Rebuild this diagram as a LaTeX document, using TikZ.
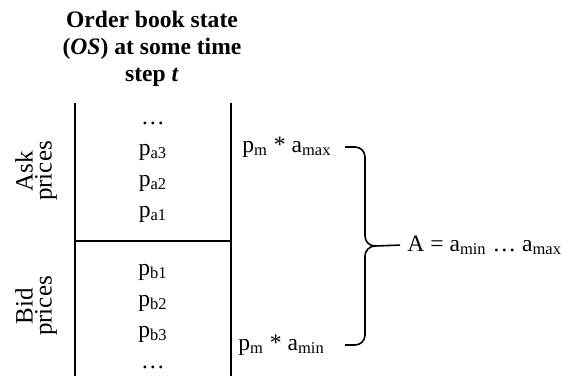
\documentclass[tikz,border=0pt]{standalone}
\usepackage{fontspec}
\setmainfont{Liberation Serif}
\usetikzlibrary{calc, positioning}

\begin{document}
\begin{tikzpicture}[
  x=0.5pt, y=-0.5pt,
  book/.style={draw=black, line width=0.8pt},
  bracket/.style={draw=black, line width=0.8pt},
  lab/.style={font=\fontsize{11.8}{13}\selectfont, inner sep=0pt},
  title/.style={font=\fontsize{11.8}{13.5}\selectfont\bfseries, align=center, inner sep=0pt},
  side/.style={font=\fontsize{12.5}{9.5}\selectfont, align=center, inner sep=0pt, rotate=90}
]
\useasboundingbox (0,0) rectangle (565,376);

\def\xl{75}
\def\xr{231}
\def\xc{153}

% book outline
\coordinate (TL) at (\xl,103);
\coordinate (BL) at (\xl,376);
\coordinate (TR) at (\xr,103);
\coordinate (BR) at (\xr,376);
\coordinate (ML) at (\xl,241);
\coordinate (MR) at (\xr,241);

\draw[book] (TL) -- (BL);
\draw[book] (TR) -- (BR);
\draw[book] (ML) -- (MR);

\node[title, anchor=north] (T) at (152,11) {Order book state\\(\textit{OS}) at some time\\step \textit{t}};

% price levels
\foreach \txt/\yy [count=\i] in {{…}/124, {p\textsubscript{a3}}/155, {p\textsubscript{a2}}/186, {p\textsubscript{a1}}/217} {
  \node[lab, anchor=base] (ask\i) at (\xc,\yy) {\txt};
}
\foreach \txt/\yy [count=\i] in {{p\textsubscript{b1}}/275, {p\textsubscript{b2}}/306, {p\textsubscript{b3}}/337, {…}/368} {
  \node[lab, anchor=base] (bid\i) at (\xc,\yy) {\txt};
}

\node[side] (askside) at (36,171) {Ask\\prices};
\node[side] (bidside) at (36,306) {Bid\\prices};

% action range
\node[lab, anchor=base west] (amax) at (242,152) {p\textsubscript{m} * a\textsubscript{max}};
\node[lab, anchor=base west] (amin) at (238,350) {p\textsubscript{m} * a\textsubscript{min}};
\node[lab, anchor=base west] (A) at (407,251) {A = a\textsubscript{min} … a\textsubscript{max}};

\coordinate (bt) at (345,147);
\coordinate (bb) at (345,345);
\coordinate (bm) at ($(A.west)+(-7,0)$);

\draw[bracket] (bt) -- (355,147) to[out=0,in=90] (365,157) -- (365,236)
  to[out=-90,in=180] (375,246) -- (bm);
\draw[bracket] (bb) -- (355,345) to[out=0,in=-90] (365,335) -- (365,256)
  to[out=90,in=180] (375,246);

\end{tikzpicture}
\end{document}
